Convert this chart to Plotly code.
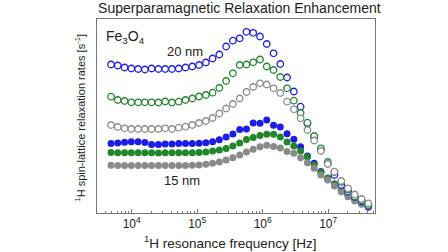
import plotly.graph_objects as go

# Proton Larmor frequencies [Hz]
freq_hz = [4.83e3, 6.12e3, 7.78e3, 9.86e3, 1.253e4, 1.589e4, 2.014e4, 2.559e4, 3.243e4, 4.121e4,
           5.224e4, 6.622e4, 8.414e4, 1.0666e5, 1.3552e5, 1.7179e5, 2.1777e5, 2.7669e5, 3.5075e5, 4.4564e5,
           5.6494e5, 7.1614e5, 9.099e5, 1.153e6, 1.466e6, 1.858e6, 2.355e6, 2.992e6, 3.793e6, 4.819e6,
           6.109e6, 7.745e6, 9.84e6, 1.247e7, 1.585e7, 2.009e7, 2.547e7, 3.236e7, 4.102e7]

# Relaxation rates (arbitrary units)
open_blue = [148.5, 147.5, 145.5, 144.5, 144, 143.5, 144.5, 144, 144, 144, 144.5, 145.5, 146.5, 148,
             150.5, 154.5, 158.5, 166.5, 172.3, 174.7, 181.2, 180.2, 176.5, 169, 159.7, 149, 135.5,
             121.5, 106.3, 89.5, 76, 63.5, 49.5, 38, 28, 21.3, 16, 11.5, 7]
open_green = [116.3, 113, 112, 110.7, 110.7, 110.7, 110.7, 110.5, 111.5, 110.5, 111.3, 113, 114.5,
              116.5, 118, 120.3, 125, 132, 139.7, 148, 148.5, 150.7, 153.5, 146.5, 143, 136, 124.7,
              112.3, 100, 90.3, 77, 64.7, 51, 41, 31, 23.5, 16.5, 12.5, 8]
open_gray = [88, 86, 84.7, 84, 84, 84, 84, 84, 84.7, 84, 85.3, 86.3, 88, 90, 92, 95, 99.5, 104.5, 109,
             114.5, 121, 126, 129.7, 128.5, 124.7, 120, 111.3, 103.7, 94.7, 83, 72.5, 62, 49, 41.3,
             32, 24.7, 18.5, 14, 9.7]
filled_blue = [69.5, 70, 70.7, 71.3, 71.3, 70.5, 68.5, 68.5, 69, 69, 69.5, 69.5, 69.5, 69.7, 70.3,
               71.3, 73.3, 76, 79, 83.5, 84, 90, 89.7, 93, 87.7, 86, 79.3, 73.8, 66.3, 57, 49.7,
               41.5, 34, 29, 23, 18, 14, 10, 6.5]
filled_green = [60.5, 60.3, 60.3, 60.3, 60.3, 60.3, 60.3, 60, 60.3, 60.3, 60.3, 60.3, 60.3, 60.5, 61,
                62, 63, 64.5, 67, 70, 73.5, 75.5, 77.5, 78.7, 78.7, 76, 71, 67, 62, 56, 48, 40.7,
                35, 29, 23, 18, 13.5, 10, 6.5]
filled_gray = [47.7, 47.5, 47.5, 47.5, 47.5, 47.5, 47.5, 47.5, 47.5, 47.5, 47.5, 47.5, 47.7, 48,
               48.7, 49.7, 51, 53, 55.3, 58, 61, 63.7, 66.3, 67.7, 66.5, 65, 61.5, 59.7, 55.3,
               50.3, 44.7, 38, 33, 27, 21.3, 16.3, 12, 8.7, 5.3]

tick_vals = [1e4, 1e5, 1e6, 1e7]
tick_text = ["10<sup>4</sup>", "10<sup>5</sup>", "10<sup>6</sup>", "10<sup>7</sup>"]

BLUE = "#1c1ce8"
GREEN = "#20862a"
GRAY = "#8a8a8a"
FONT = "Arial, Liberation Sans, sans-serif"

fig = go.Figure()

for vals, col in [(filled_blue, BLUE), (filled_green, GREEN), (filled_gray, GRAY)]:
    fig.add_trace(go.Scatter(x=freq_hz, y=vals, mode="markers",
                             marker=dict(symbol="circle", size=7, color=col, line=dict(width=0)),
                             showlegend=False))
for vals, col in [(open_blue, BLUE), (open_green, GREEN), (open_gray, GRAY)]:
    fig.add_trace(go.Scatter(x=freq_hz, y=vals, mode="markers",
                             marker=dict(symbol="circle", size=6.5, color="white",
                                         line=dict(width=1.3, color=col)),
                             showlegend=False))

fig.update_layout(
    width=448, height=252,
    margin=dict(l=97, r=73, t=19, b=39),
    paper_bgcolor="white", plot_bgcolor="white",
    font=dict(family=FONT, color="#222222"),
    title=dict(text="Superparamagnetic Relaxation Enhancement", x=0.512, xref="paper",
               y=0.966, yref="container", yanchor="middle", xanchor="center",
               font=dict(size=14, family=FONT, color="#222222")),
)
fig.update_xaxes(type="log", range=[3.470, 7.715], showline=True, mirror=True,
                 linecolor="#777777", linewidth=1, showgrid=False, zeroline=False,
                 tickvals=tick_vals, ticktext=tick_text, ticks="inside", ticklen=4,
                 tickcolor="#777777", tickfont=dict(size=12, family=FONT, color="#222222"),
                 minor=dict(ticks="inside", ticklen=2, tickcolor="#777777", dtick="D1", showgrid=False))
fig.update_yaxes(range=[0, 194], showline=True, mirror=True, linecolor="#777777", linewidth=1,
                 showgrid=False, zeroline=False, showticklabels=False, ticks="")

fig.add_annotation(text="Fe<sub>3</sub>O<sub>4</sub>", xref="paper", yref="paper", x=0.026, y=0.905,
                   xanchor="left", yanchor="middle", showarrow=False,
                   font=dict(size=14, family=FONT, color="#222222"))
fig.add_annotation(text="20 nm", xref="paper", yref="paper", x=0.317, y=0.83,
                   xanchor="center", yanchor="middle", showarrow=False,
                   font=dict(size=13, family=FONT, color="#222222"))
fig.add_annotation(text="15 nm", xref="paper", yref="paper", x=0.307, y=0.17,
                   xanchor="center", yanchor="middle", showarrow=False,
                   font=dict(size=13, family=FONT, color="#222222"))
fig.add_annotation(text="<sup>1</sup>H resonance frequency [Hz]", xref="paper", yref="paper",
                   x=0.48, y=-0.15, xanchor="center", yanchor="middle", showarrow=False,
                   font=dict(size=13.5, family=FONT, color="#222222"))
fig.add_annotation(text="<sup>1</sup>H spin-lattice relaxation rates [s<sup>-1</sup>]", xref="paper",
                   yref="paper", x=-0.061, y=0.492, textangle=-90, xanchor="center", yanchor="middle",
                   showarrow=False, font=dict(size=11, family=FONT, color="#222222"))

fig.write_html("out.html", config={"displayModeBar": False},
               post_script="document.body.style.margin='0';")
